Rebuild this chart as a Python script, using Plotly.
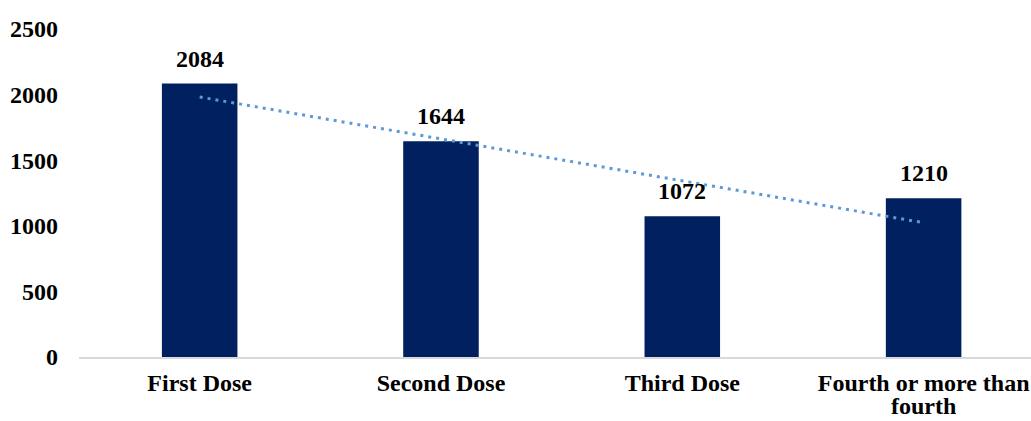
import numpy as np
import plotly.graph_objects as go

# Doses received and counts per group
categories = ["First Dose", "Second Dose", "Third Dose", "Fourth or more than fourth"]
tick_line1 = ["First Dose", "Second Dose", "Third Dose", "Fourth or more than"]
tick_line2 = ["", "", "", "fourth"]
counts = [2084, 1644, 1072, 1210]
y_ticks = [0, 500, 1000, 1500, 2000, 2500]

FONT = "Liberation Serif, Times New Roman, serif"
FONT_SIZE = 24
BAR_COLOR = "#002060"
TREND_COLOR = "#5b9bd5"

xpos = np.arange(len(categories))
# Linear trendline fitted to the counts
slope, intercept = np.polyfit(xpos + 1, counts, 1)
trend = intercept + slope * (xpos + 1)

fig = go.Figure()
fig.add_trace(go.Bar(
    x=xpos, y=counts, width=0.313,
    marker=dict(color=BAR_COLOR, line=dict(width=0)),
    showlegend=False, hoverinfo="skip",
))
fig.add_trace(go.Scatter(
    x=xpos, y=trend, mode="lines",
    line=dict(color=TREND_COLOR, width=3, dash="3px,5px"),
    showlegend=False, hoverinfo="skip",
))

# Value labels above the bars
for xi, v in zip(xpos, counts):
    fig.add_annotation(
        x=xi, y=v, text=f"<b>{v}</b>", showarrow=False,
        yanchor="bottom", yshift=10,
        font=dict(family=FONT, size=FONT_SIZE, color="black"),
    )

# Wrapped second line of the long category labels
for xi, t in zip(xpos, tick_line2):
    if t:
        fig.add_annotation(
            x=xi, y=0, yref="y", text=f"<b>{t}</b>", showarrow=False,
            yanchor="middle", yshift=-49, height=20, valign="middle",
            font=dict(family=FONT, size=FONT_SIZE, color="black"),
        )

fig.update_layout(
    width=1031, height=421,
    margin=dict(l=79, r=0, t=29, b=64),
    paper_bgcolor="white", plot_bgcolor="white",
    template="none",
    font=dict(family=FONT, size=FONT_SIZE, color="black"),
)
fig.update_xaxes(
    range=[-0.5, 3.445],
    tickvals=list(xpos),
    ticktext=[f"<b>{t}</b>" for t in tick_line1],
    showline=True, linecolor="#d9d9d9", linewidth=1.5,
    showgrid=False, zeroline=False, ticks="",
    ticklabelstandoff=3,
    automargin=False,
)
fig.update_yaxes(
    range=[0, 2500],
    tickvals=y_ticks,
    ticktext=[f"<b>{t}</b>" for t in y_ticks],
    showline=False, showgrid=False, zeroline=False, ticks="",
    ticklabelstandoff=20,
    automargin=False,
)

fig.write_html("out.html")
